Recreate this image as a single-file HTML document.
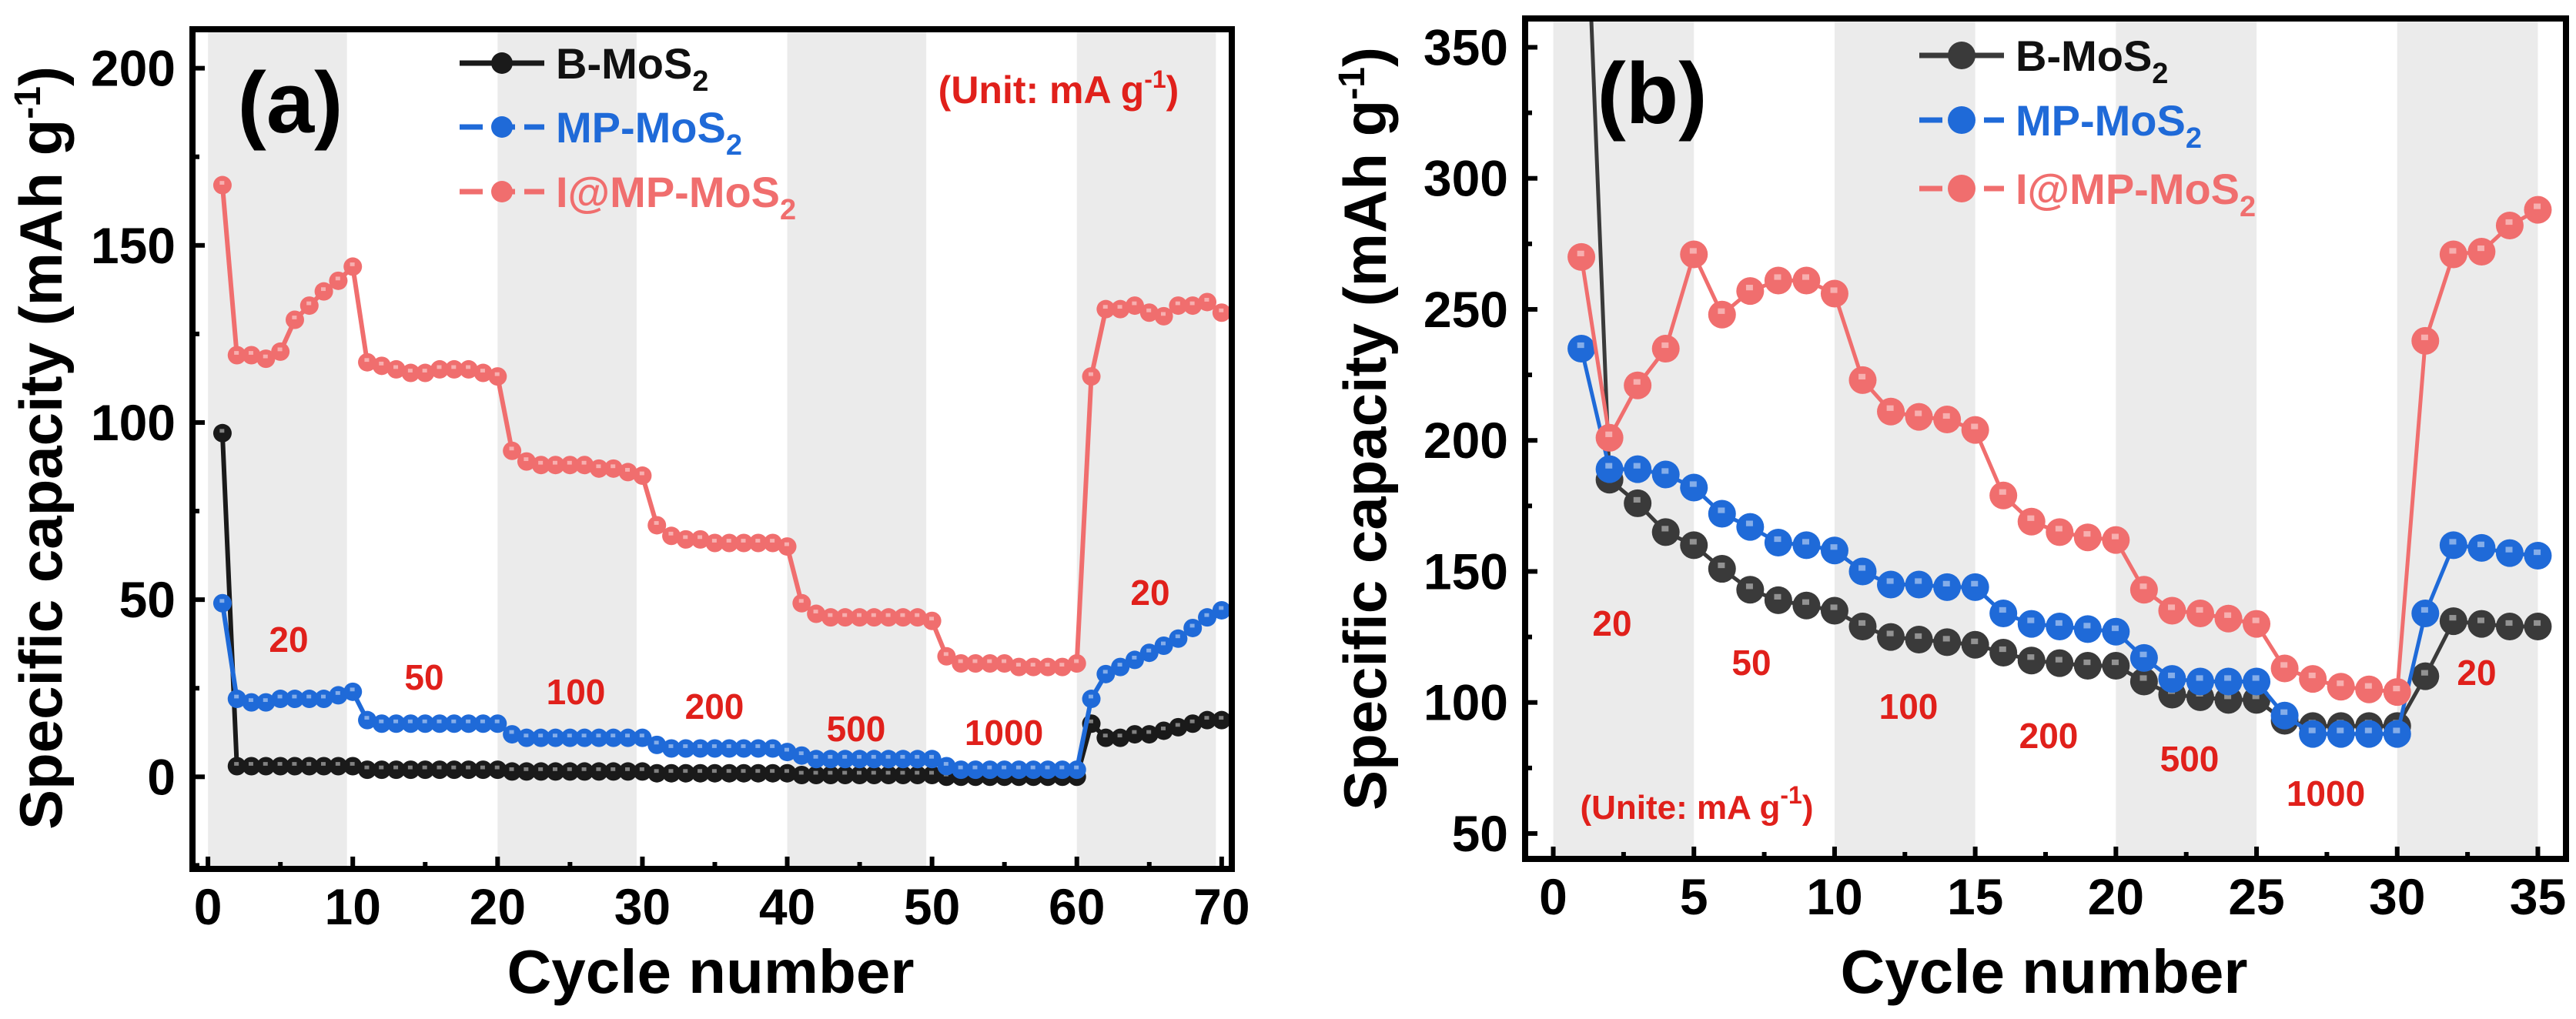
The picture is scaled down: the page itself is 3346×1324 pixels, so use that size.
<!DOCTYPE html>
<html><head><meta charset="utf-8"><style>
html,body{margin:0;padding:0;background:#fff;}
svg{display:block;font-family:"Liberation Sans",Arial,sans-serif;font-weight:bold;}
</style></head><body>
<svg id="fig" width="3346" height="1324" viewBox="0 0 3346 1324" xmlns="http://www.w3.org/2000/svg"></svg>
<script>
// ---- Panel (a) data ----
const cyclesA = Array.from({length:70},(_,i)=>i+1);
const redA = [167,119,119,118,120,129,133,137,140,144,
 117,116,115,114,114,115,115,115,114,113,
 92,89,88,88,88,88,87,87,86,85,
 71,68,67,67,66,66,66,66,66,65,
 49,46,45,45,45,45,45,45,45,44,
 34,32,32,32,32,31,31,31,31,32,
 113,132,132,133,131,130,133,133,134,131];
const blueA = [49,22,21,21,22,22,22,22,23,24,
 16,15,15,15,15,15,15,15,15,15,
 12,11,11,11,11,11,11,11,11,11,
 9,8,8,8,8,8,8,8,8,7,
 6,5,5,5,5,5,5,5,5,5,
 3,2,2,2,2,2,2,2,2,2,
 22,29,31,33,35,37,39,42,45,47];
const blackA = [97,3,3,3,3,3,3,3,3,3,
 2,2,2,2,2,2,2,2,2,2,
 1.5,1.5,1.5,1.5,1.5,1.5,1.5,1.5,1.5,1.5,
 1,1,1,1,1,1,1,1,1,1,
 0.5,0.5,0.5,0.5,0.5,0.5,0.5,0.5,0.5,0.5,
 0,0,0,0,0,0,0,0,0,0,
 15,11,11,12,12,13,14,15,16,16];
const xTicksA = [0,10,20,30,40,50,60,70];
const yTicksA = [0,50,100,150,200];
const bandsA = [0,20,40,60];
const rateLabelsA = ["20","50","100","200","500","1000","20"];

// ---- Panel (b) data ----
const cyclesB = Array.from({length:35},(_,i)=>i+1);
const redB = [270,201,221,235,271,248,257,261,261,256,223,211,209,208,204,179,169,165,163,162,143,135,134,132,130,113,109,106,105,104,238,271,272,282,288];
const blueB = [235,189,189,187,182,172,167,161,160,158,150,145,145,144,144,134,130,129,128,127,117,109,108,108,108,95,88,88,88,88,134,160,159,157,156];
const blackB = [456,185,176,165,160,151,143,139,137,135,129,125,124,123,122,119,116,115,114,114,108,103,102,101,101,93,91,91,91,91,110,131,130,129,129];
const xTicksB = [0,5,10,15,20,25,30,35];
const yTicksB = [50,100,150,200,250,300,350];
const bandsB = [0,10,20,30];
const rateLabelsB = ["20","50","100","200","500","1000","20"];

const NS="http://www.w3.org/2000/svg";
const fig=document.getElementById('fig');
function mk(tag,attrs,parent){const e=document.createElementNS(NS,tag);for(const k in attrs)e.setAttribute(k,attrs[k]);(parent||fig).appendChild(e);return e;}
const RED="#f06e6e", BLUE="#1f6ad8", BLACK="#1a1a1a";

function panel(o){
  const g=mk('g',{});
  
  
  const sx=v=>o.L+(v-o.xmin)/(o.xmax-o.xmin)*(o.R-o.L);
  const sy=v=>o.B-(v-o.ymin)/(o.ymax-o.ymin)*(o.B-o.T);
  const clip=mk('clipPath',{id:o.name+'-clip'},g);
  mk('rect',{x:o.L,y:o.T,width:o.R-o.L,height:o.B-o.T},clip);
  o.bands.forEach(b=>{
    const r=mk('rect',{x:sx(b),y:o.T,width:sx(b+o.bandW)-sx(b),height:o.B-o.T,fill:'#ebebeb'},g);
    
    
  });
  const plot=mk('g',{'clip-path':'url(#'+o.name+'-clip)'},g);
  o.series.forEach(s=>{
    const sg=mk('g',{},plot);
    
    
    const pts=o.cycles.map((c,i)=>sx(c).toFixed(1)+','+sy(s.vals[i]).toFixed(1)).join(' ');
    mk('polyline',{points:pts,fill:'none',stroke:s.color,'stroke-width':o.lw},sg);
    o.cycles.forEach((c,i)=>{
      const m=mk('circle',{cx:sx(c),cy:sy(s.vals[i]),r:o.mr,fill:s.color},sg);
      
      
      mk('rect',{x:sx(c)-o.mr*0.3,y:sy(s.vals[i])-o.mr*0.45,width:o.mr*0.5,height:o.mr*0.4,fill:'#fff',opacity:0.45},sg);
    });
  });
  const fr=mk('rect',{x:o.L,y:o.T,width:o.R-o.L,height:o.B-o.T,fill:'none',stroke:'#000','stroke-width':8},g);
  
  
  o.xTicks.forEach(t=>{
    mk('line',{x1:sx(t),x2:sx(t),y1:o.B,y2:o.B-16,stroke:'#000','stroke-width':6},g);
    const mt=t+o.xMinor; if(mt<o.xmax) mk('line',{x1:sx(mt),x2:sx(mt),y1:o.B,y2:o.B-9,stroke:'#000','stroke-width':6},g);
    const tx=mk('text',{x:sx(t),y:o.B+72,'text-anchor':'middle','font-size':66},g);
    tx.textContent=t;
    
    
  });
  o.yTicks.forEach(t=>{
    mk('line',{x1:o.L,x2:o.L+16,y1:sy(t),y2:sy(t),stroke:'#000','stroke-width':6},g);
    const mt=t-o.yMinor; if(mt>o.ymin) mk('line',{x1:o.L,x2:o.L+9,y1:sy(mt),y2:sy(mt),stroke:'#000','stroke-width':6},g);
    const tx=mk('text',{x:o.L-22,y:sy(t)+23,'text-anchor':'end','font-size':66},g);
    tx.textContent=t;
    
    
  });
  const xt=mk('text',{x:o.xTitleX,y:1290,'text-anchor':'middle','font-size':80},g);
  xt.textContent='Cycle number';
  
  
  const yt=mk('text',{x:0,y:0,'text-anchor':'middle','font-size':78,transform:`translate(${o.yTitleX},${o.yTitleY}) rotate(-90)`},g);
  yt.innerHTML='Specific capacity (mAh g<tspan dy="-28" font-size="48">-1</tspan><tspan dy="28">)</tspan>';
  
  
  const pl=mk('text',{x:o.tag[0],y:o.tag[1],'text-anchor':'middle','font-size':112},g);
  pl.textContent=o.tagText;
  
  
  o.series.forEach((s,i)=>{
    const y=o.leg[1][i];
    const lg=mk('g',{},g);
    
    
    mk('line',{x1:o.leg[0],x2:o.leg[0]+110,y1:y,y2:y,stroke:s.color,'stroke-width':7,'stroke-dasharray':s.dash},lg);
    mk('circle',{cx:o.leg[0]+55,cy:y,r:o.lmr,fill:s.color},lg);
    const t=mk('text',{x:o.leg[0]+125,y:y+20,'font-size':56,fill:s.tcolor},lg);
    t.innerHTML=s.label+'<tspan dy="16" font-size="38">2</tspan>';
  });
  o.rates.forEach((r,i)=>{
    const t=mk('text',{x:o.ratePos[i][0],y:o.ratePos[i][1]+16,'text-anchor':'middle','font-size':46,fill:'#e0201b'},g);
    t.textContent=r;
    
    
  });
  const u=mk('text',{x:o.unit[0],y:o.unit[1]+16,'text-anchor':'middle','font-size':o.unit[2],fill:'#e0201b'},g);
  u.innerHTML=o.unitText+' g<tspan dy="-20" font-size="32">-1</tspan><tspan dy="20">)</tspan>';
  
  
}

panel({name:'panel-a',L:250,R:1600,T:38,B:1129,xmin:-1.07,xmax:70.7,ymin:-26,ymax:211,
 cycles:cyclesA,bands:bandsA,bandW:9.6,xTicks:xTicksA,yTicks:yTicksA,xMinor:5,yMinor:25,lw:6,mr:12,lmr:14,
 series:[{name:'series-b-mos2',vals:blackA,color:BLACK,tcolor:'#111',label:'B-MoS',dash:'none'},
         {name:'series-mp-mos2',vals:blueA,color:BLUE,tcolor:BLUE,label:'MP-MoS',dash:'30 12'},
         {name:'series-i-mp-mos2',vals:redA,color:RED,tcolor:RED,label:'I@MP-MoS',dash:'30 12'}],
 leg:[597,[82,165,249]],tag:[377,172],tagText:'(a)',xTitleX:923,yTitleX:80,yTitleY:582,
 rates:rateLabelsA,ratePos:[[375,831],[551,880],[748,899],[928,918],[1112,947],[1304,952],[1494,770]],
 unit:[1375,118,50],unitText:'(Unit: mA'});

panel({name:'panel-b',L:1981,R:3333,T:24,B:1116,xmin:-1.0,xmax:36.0,ymin:40.3,ymax:361,
 cycles:cyclesB,bands:bandsB,bandW:5,xTicks:xTicksB,yTicks:yTicksB,xMinor:2.5,yMinor:25,lw:5,mr:18,lmr:18,
 series:[{name:'series-b-mos2',vals:blackB,color:'#3a3a3a',tcolor:'#111',label:'B-MoS',dash:'none'},
         {name:'series-mp-mos2',vals:blueB,color:BLUE,tcolor:BLUE,label:'MP-MoS',dash:'30 12'},
         {name:'series-i-mp-mos2',vals:redB,color:RED,tcolor:RED,label:'I@MP-MoS',dash:'30 12'}],
 leg:[2493,[72,156,245]],tag:[2146,160],tagText:'(b)',xTitleX:2655,yTitleX:1800,yTitleY:557,
 rates:rateLabelsB,ratePos:[[2094,810],[2275,861],[2479,918],[2661,956],[2844,986],[3021,1031],[3217,874]],
 unit:[2204,1048,44],unitText:'(Unite: mA'});
</script>
</body></html>
